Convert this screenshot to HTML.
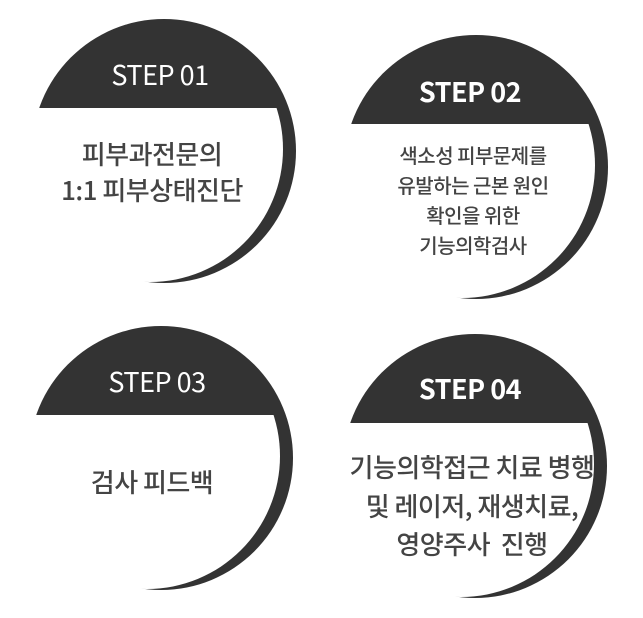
<!DOCTYPE html>
<html><head><meta charset="utf-8"><style>
body{margin:0;width:643px;height:618px;background:#fff;overflow:hidden;position:relative;font-family:"Liberation Sans","Noto Sans CJK KR",sans-serif}
svg{position:absolute;left:0;top:0}
.t{position:absolute;text-align:center;white-space:nowrap;transform:translateX(-50%);font-family:"Noto Sans CJK KR","Liberation Sans",sans-serif}
.s{color:#fff;font-size:27px;line-height:30px;letter-spacing:-0.5px}
.b{color:#444;letter-spacing:-0.5px;font-weight:500}
</style></head><body>
<svg width="643" height="618">
<defs>
<g id="c">
<circle cx="164" cy="151" r="132" fill="#333"/>
<clipPath id="cp"><rect x="0" y="108" width="400" height="300"/></clipPath>
<circle cx="150" cy="149" r="133" fill="#fff" clip-path="url(#cp)"/>
</g>
</defs>
<use href="#c" x="0" y="0"/>
<use href="#c" x="312" y="16"/>
<use href="#c" x="-3" y="307"/>
<use href="#c" x="311" y="315"/>
</svg>
<div class="t s" style="left:160px;top:59px">STEP 01</div>
<div class="t s" style="left:470px;top:76px;font-weight:bold">STEP 02</div>
<div class="t s" style="left:157px;top:366px">STEP 03</div>
<div class="t s" style="left:470px;top:373px;font-weight:bold">STEP 04</div>
<div class="t b" style="left:152px;top:136px;font-size:26px;line-height:36px">피부과전문의<br>1:1 피부상태진단</div>
<div class="t b" style="left:473px;top:140px;font-size:20px;line-height:30px">색소성 피부문제를<br>유발하는 근본 원인<br>확인을 위한<br>기능의학검사</div>
<div class="t b" style="left:152px;top:464px;font-size:26px;line-height:36px">검사 피드백</div>
<div class="t b" style="left:472px;top:448px;font-size:26px;line-height:38.5px">기능의학접근 치료 병행<br>및 레이저, 재생치료,<br>영양주사&nbsp; 진행</div>
</body></html>
